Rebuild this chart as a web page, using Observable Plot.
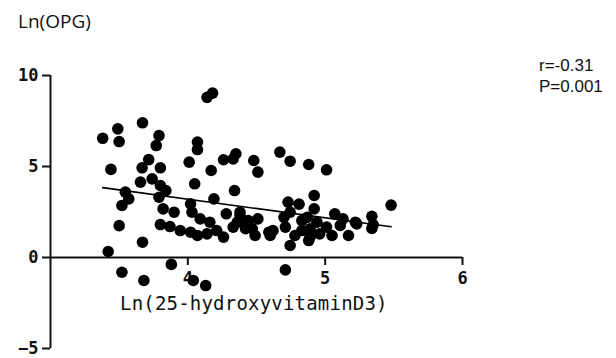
<!DOCTYPE html>
<html>
<head>
<meta charset="utf-8">
<script src="https://cdn.jsdelivr.net/npm/d3@7"></script>
<script src="https://cdn.jsdelivr.net/npm/@observablehq/plot@0.6"></script>
<style>
  html, body { margin: 0; padding: 0; background: #fff; }
  #wrap { position: relative; width: 616px; height: 358px; }
  .lbl { position: absolute; white-space: nowrap; color: #111; }
</style>
</head>
<body>
<div id="wrap">
  <div class="lbl" id="ytitle" style="left:18px; top:8px; font: 19px 'Open Sans', sans-serif;">Ln(OPG)</div>
  <div class="lbl" style="left:539px; top:56px; font: 17px 'Liberation Sans', sans-serif; line-height:19px;">r=-0.31</div>
  <div class="lbl" style="left:539px; top:77px; font: 17px 'Liberation Sans', sans-serif; line-height:19px;">P=0.001</div>
  <div class="lbl" id="xtitle" style="left:120px; top:292px; font: 19px 'DejaVu Sans Mono', monospace; letter-spacing:0.2px;">Ln(25-hydroxyvitaminD3)</div>
</div>
<script>
// Ln(25-hydroxyvitaminD3) values
const vitD = [
  4.14, 4.18,
  3.67, 3.49, 3.38, 3.50,
  3.79, 3.77, 4.07, 4.07,
  3.44, 3.715, 3.667, 3.80,
  4.01, 4.17, 4.26, 4.35, 4.33,
  4.48, 4.51, 4.67, 4.745, 4.88, 5.01,
  4.05, 3.655, 3.74, 3.80, 3.84, 3.79,
  4.34, 4.19, 3.545, 3.57, 3.52,
  3.82, 3.90, 4.02, 4.03, 4.28, 4.38,
  4.09, 4.16, 3.80, 3.87, 3.945, 4.02,
  4.07, 4.14, 4.21, 4.26, 4.33, 4.41,
  3.50, 3.67, 3.42,
  3.52, 3.68, 3.88, 4.04, 4.13, 4.71,
  4.92, 5.48, 4.73, 4.81, 4.92, 5.07,
  5.13, 5.22, 5.34, 5.35, 5.34,
  4.38, 4.44, 4.51, 4.42, 4.49, 4.62,
  4.60, 4.70, 4.745, 4.71, 4.745, 4.78,
  4.87, 4.89, 4.88, 4.94, 4.96, 5.01,
  5.05, 4.83, 4.83, 5.17, 5.11,
  4.59, 4.47, 4.36, 4.89, 5.23
];
// Ln(OPG) values
const opg = [
  8.80, 9.03,
  7.40, 7.07, 6.55, 6.37,
  6.70, 6.15, 6.34, 5.93,
  4.84, 5.38, 4.93, 4.93,
  5.24, 4.78, 5.37, 5.70, 5.42,
  5.33, 4.69, 5.79, 5.29, 5.11, 4.82,
  4.05, 4.14, 4.32, 3.96, 3.68, 3.31,
  3.68, 3.22, 3.59, 3.22, 2.86,
  2.67, 2.49, 2.95, 2.49, 2.40, 2.49,
  2.12, 1.94, 1.81, 1.70, 1.48, 1.39,
  1.21, 1.30, 1.48, 1.12, 1.67, 1.85,
  1.75, 0.84, 0.33,
  -0.81, -1.26, -0.38, -1.26, -1.54, -0.68,
  3.41, 2.88, 3.04, 2.93, 2.67, 2.40,
  2.12, 1.94, 2.26, 1.80, 1.60,
  2.31, 2.03, 2.12, 1.58, 1.21, 1.48,
  1.21, 2.21, 2.49, 1.67, 0.66, 1.21,
  2.21, 1.58, 0.93, 1.94, 1.30, 1.67,
  1.21, 1.48, 2.03, 1.21, 1.76,
  1.39, 1.58, 1.94, 1.12, 1.85
];
const xTicks = [4, 5, 6];
const yTicks = [-5, 0, 5, 10];
const xDomain = [3, 6];
const yDomain = [-5, 10];

const data = vitD.map((x, i) => ({x, y: opg[i]}));

const chart = Plot.plot({
  width: 616,
  height: 358,
  marginLeft: 50,
  marginRight: 154,
  marginTop: 75,
  marginBottom: 10,
  x: {domain: xDomain, axis: null},
  y: {domain: yDomain},
  style: {fontFamily: "'DejaVu Sans Mono', monospace", background: "transparent", color: "#111"},
  marks: [
    Plot.ruleX([xDomain[0]], {y1: yDomain[0], y2: yDomain[1], stroke: "#111", strokeWidth: 2}),
    Plot.ruleY([0], {x1: xDomain[0], x2: xDomain[1], stroke: "#111", strokeWidth: 2}),
    Plot.axisY(yTicks, {tickSize: 8, tickPadding: 4, strokeWidth: 2, fontSize: 17, fontWeight: "bold", label: null, stroke: "#111", fill: "#111"}),
    Plot.ruleX(xTicks, {x: d => d, y1: 0, y2: 0, insetBottom: -8, stroke: "#111", strokeWidth: 2}),
    Plot.text(xTicks, {x: d => d, y: 0, dy: 21, text: d => String(d), fontSize: 17, fontWeight: "bold", fill: "#111"}),
    Plot.dot(data, {x: "x", y: "y", r: 5.8, fill: "#000", stroke: "none"}),
    Plot.linearRegressionY(data, {x: "x", y: "y", stroke: "#000", strokeWidth: 1.6, ci: 0})
  ]
});
chart.style.position = "absolute";
chart.style.left = "0px";
chart.style.top = "0px";
document.getElementById("wrap").prepend(chart);
</script>
</body>
</html>
